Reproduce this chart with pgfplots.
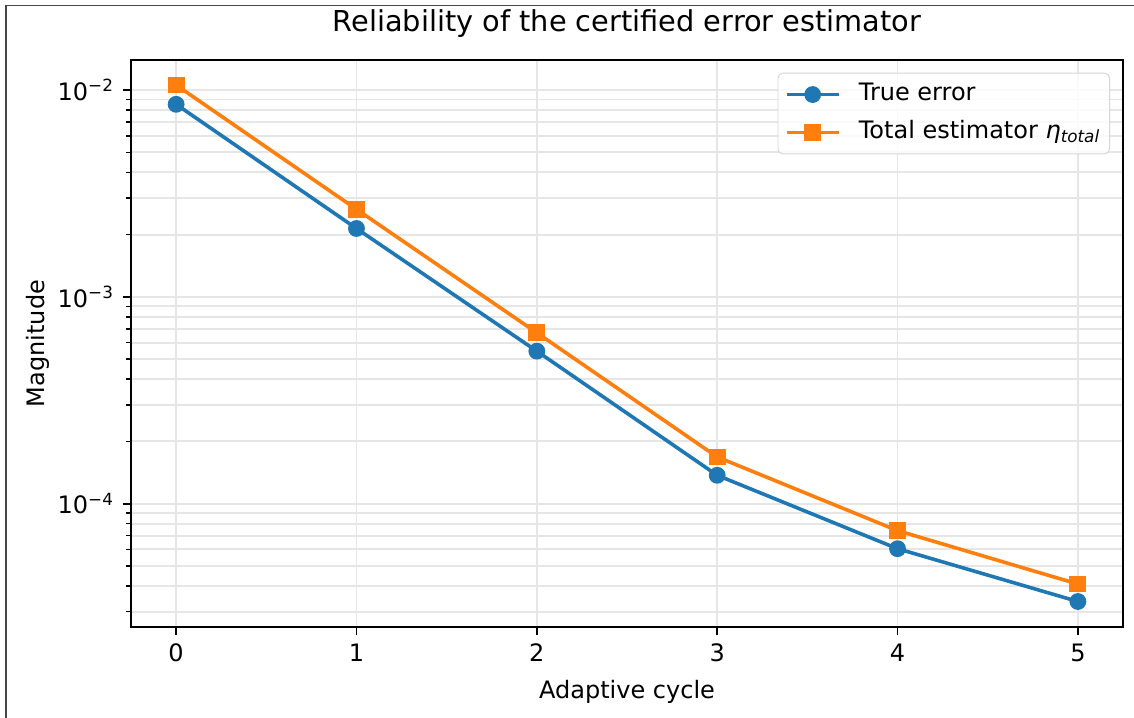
\documentclass[border=0pt]{standalone}
\usepackage{fontspec}
\setmainfont{DejaVu Sans}
\usepackage{pgfplots}
\pgfplotsset{compat=1.18}
\definecolor{C0}{HTML}{1F77B4}
\definecolor{C1}{HTML}{FF7F0E}
\definecolor{gridc}{HTML}{E6E6E6}
\definecolor{legc}{HTML}{D6D6D6}
\begin{document}
\begin{tikzpicture}
\path[use as bounding box] (-54.6pt,-37.9pt) rectangle (417.9pt,261.25pt);
\draw[line width=0.6pt, color=black!72] (-52.1pt,-37.9pt) -- (-52.1pt,258.9pt) -- (417.9pt,258.9pt);
\begin{axis}[
  at={(0pt,0pt)}, anchor=south west,
  scale only axis, width=413.3pt, height=236.25pt,
  xmin=-0.25, xmax=5.25,
  ymode=log, ymin=2.529e-5, ymax=1.3973e-2,
  xtick={0,1,2,3,4,5},
  ytick={1e-4,1e-3,1e-2},
  yticklabels={10\textsuperscript{−4},10\textsuperscript{−3},10\textsuperscript{−2}},
  minor ytick={3e-5,4e-5,5e-5,6e-5,7e-5,8e-5,9e-5,2e-4,3e-4,4e-4,5e-4,6e-4,7e-4,8e-4,9e-4,2e-3,3e-3,4e-3,5e-3,6e-3,7e-3,8e-3,9e-3},
  /pgf/number format/assume math mode=true,
  tick pos=left,
  tick align=outside,
  major tick length=3.5pt,
  minor tick length=2pt,
  every tick/.style={black, line width=0.8pt},
  minor tick style={black, line width=0.6pt},
  axis line style={line width=0.8pt},
  grid=both,
  major grid style={gridc, line width=0.8pt},
  minor grid style={gridc, line width=0.8pt},
  ticklabel style={font=\fontsize{10}{12}\selectfont},
  title={Reliability of the certified error estimator},
  title style={font=\fontsize{12}{14.4}\selectfont, at={(axis description cs:0.5,1)}, anchor=base, yshift=6pt, inner sep=0pt},
  xlabel={Adaptive cycle},
  xlabel style={font=\fontsize{10}{12}\selectfont, at={(axis description cs:0.5,0)}, anchor=north, yshift=-22.1pt, inner sep=0pt},
  ylabel={Magnitude},
  ylabel style={font=\fontsize{10}{12}\selectfont, at={(axis description cs:-0.0817,0.5)}, rotate=0, anchor=south, inner sep=0pt},
  legend style={at={(axis description cs:1,1)}, anchor=north east, xshift=-5.4pt, yshift=-5.3pt,
    draw=legc, rounded corners=2pt, fill=white, fill opacity=0.8, text opacity=1, draw opacity=1,
    font=\fontsize{10}{12}\selectfont, inner xsep=2.8pt, inner ysep=2.9pt,
    nodes={inner sep=1pt, text height=7.5pt, text depth=2.5pt},
    row sep=3.8pt, column sep=6.6pt},
  legend cell align=left,
  legend image code/.code={\draw[mark repeat=2,mark phase=2, fill opacity=1, draw opacity=1] plot coordinates {(0pt,0pt) (10.9pt,0pt) (21.8pt,0pt)};},
]
\addplot[C0, line width=1.5pt, mark=*, mark size=3pt, mark options={solid, line width=1pt, fill=C0, draw=C0, fill opacity=1}]
  coordinates {(0,8.53e-3) (1,2.14e-3) (2,5.46e-4) (3,1.37e-4) (4,6.05e-5) (5,3.36e-5)};
\addlegendentry{True error}
\addplot[C1, line width=1.5pt, mark=square*, mark size=3pt, mark options={solid, line width=1pt, fill=C1, draw=C1, fill opacity=1}]
  coordinates {(0,1.057e-2) (1,2.65e-3) (2,6.70e-4) (3,1.68e-4) (4,7.40e-5) (5,4.08e-5)};
\addlegendentry{Total estimator \textit{η}\textsubscript{\textit{total}}}
\end{axis}
\end{tikzpicture}
\end{document}
